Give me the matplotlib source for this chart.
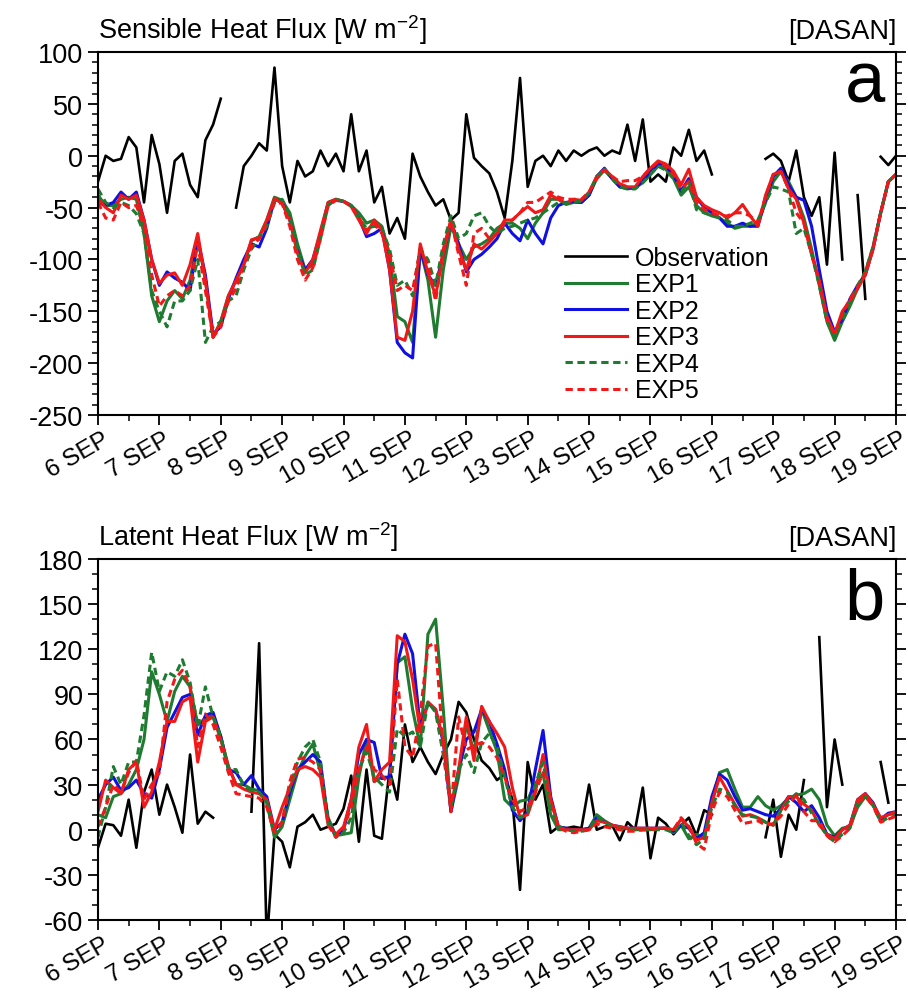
#!/usr/bin/env python
# surface heat fluxes at DASAN, observation vs. five model experiments
# values are 3-hourly from 6 SEP 00 to 19 SEP 00 (105 points)

import numpy as n
import matplotlib
matplotlib.use('Agg')
import matplotlib.pyplot as plt
import matplotlib.transforms as mtrans
from matplotlib.ticker import MultipleLocator

nan = n.nan

days = 6 + n.arange(105) / 8.
tick_days = list(range(6, 20))
tick_labels = ['%d SEP' % d for d in tick_days]
names = ['Observation', 'EXP1', 'EXP2', 'EXP3', 'EXP4', 'EXP5']

# sensible heat flux (W m-2)
sh_obs = [-25, 0, -5, -3, 18, 8, -45, 20,
          -8, -55, -5, 2, -28, -40, 15, 30,
          55, nan, -50, -10, 0, 12, 5, 85,
          -10, -45, -5, -20, -15, 5, -10, 2,
          -15, 40, -15, 5, -45, -30, -75, -60,
          -80, 2, -20, -35, -48, -42, -62, -55,
          40, -2, -10, -17, -35, -60, -5, 75,
          -30, -5, 0, -10, 5, -5, 5, 0,
          5, 8, 0, 5, 2, 30, -5, 35,
          -25, -18, -25, 8, 0, 25, -5, 5,
          -18, nan, nan, nan, nan, nan, nan, -3,
          2, -5, -25, 5, -40, -58, -40, -105,
          3, -100, nan, -38, -138, nan, -1, -9,
          0]
sh_exp1 = [-38, -48, -48, -42, -40, -42, -75, -135,
           -160, -140, -130, -138, -120, -80, -120, -175,
           -160, -135, -120, -105, -82, -78, -62, -40,
           -43, -55, -85, -110, -105, -75, -45, -42,
           -44, -48, -55, -65, -62, -68, -95, -155,
           -160, -180, -90, -120, -175, -110, -68, -85,
           -100, -88, -85, -80, -70, -65, -65, -70,
           -80, -65, -55, -42, -42, -47, -45, -45,
           -38, -22, -14, -22, -30, -32, -31, -26,
           -18, -10, -13, -22, -38, -30, -48, -55,
           -58, -60, -65, -70, -68, -68, -65, -45,
           -25, -15, -25, -40, -60, -90, -125, -160,
           -178, -160, -145, -128, -112, -88, -55, -25,
           -18]
sh_exp2 = [-45, -48, -45, -35, -42, -35, -62, -100,
           -125, -112, -118, -122, -130, -80, -115, -172,
           -165, -138, -118, -100, -85, -88, -70, -42,
           -45, -62, -92, -110, -100, -75, -46, -43,
           -44, -48, -60, -78, -75, -70, -110, -180,
           -190, -195, -90, -115, -125, -95, -63, -85,
           -112, -100, -95, -88, -80, -65, -75, -82,
           -62, -75, -85, -60, -48, -45, -44, -45,
           -38, -20, -12, -22, -30, -31, -31, -24,
           -15, -7, -10, -18, -34, -22, -40, -50,
           -55, -60, -68, -68, -65, -68, -68, -42,
           -20, -12, -28, -40, -43, -68, -110, -150,
           -170, -158, -138, -125, -115, -90, -55, -25,
           -18]
sh_exp3 = [-42, -50, -55, -38, -42, -38, -62, -100,
           -123, -115, -113, -125, -105, -75, -120, -175,
           -160, -135, -120, -105, -81, -79, -62, -41,
           -46, -62, -94, -113, -100, -72, -45, -42,
           -44, -49, -62, -75, -62, -72, -110, -175,
           -178, -150, -85, -113, -135, -95, -62, -90,
           -110, -85, -90, -83, -75, -62, -62, -55,
           -49, -55, -52, -38, -42, -46, -42, -43,
           -35, -20, -13, -20, -27, -30, -30, -20,
           -12, -5, -8, -15, -28, -13, -40, -48,
           -52, -55, -60, -55, -47, -58, -68, -38,
           -18, -15, -32, -42, -65, -95, -120, -155,
           -172, -150, -140, -128, -115, -90, -55, -25,
           -18]
sh_exp4 = [-32, -45, -50, -45, -48, -56, -75, -130,
           -150, -165, -140, -140, -130, -100, -180, -165,
           -160, -140, -135, -110, -90, -80, -68, -45,
           -42, -58, -90, -115, -110, -80, -48, -42,
           -44, -48, -60, -70, -68, -70, -90, -125,
           -120, -135, -90, -100, -125, -85, -58, -80,
           -75, -58, -55, -68, -75, -70, -68, -65,
           -62, -60, -55, -50, -45, -46, -44, -44,
           -36, -20, -13, -22, -30, -32, -32, -26,
           -18, -10, -14, -22, -35, -25, -52, -55,
           -57, -60, -62, -68, -68, -65, -62, -45,
           -30, -32, -35, -75, -70, -95, -125, -160,
           -175, -158, -140, -125, -112, -88, -55, -25,
           -18]
sh_exp5 = [-45, -60, -62, -45, -50, -48, -68, -115,
           -145, -135, -130, -135, -125, -85, -130, -175,
           -165, -140, -128, -105, -88, -80, -65, -45,
           -46, -68, -100, -120, -108, -80, -48, -43,
           -44, -48, -60, -72, -65, -75, -95, -130,
           -125, -130, -90, -105, -140, -90, -62, -95,
           -125, -75, -70, -80, -75, -65, -62, -55,
           -45, -45, -40, -35, -40, -42, -42, -42,
           -35, -22, -14, -20, -25, -24, -24, -20,
           -12, -6, -10, -18, -32, -25, -45, -52,
           -55, -58, -58, -55, -55, -58, -65, -40,
           -18, -15, -32, -55, -65, -95, -122, -158,
           -172, -152, -138, -127, -114, -90, -55, -25,
           -18]

# latent heat flux (W m-2)
lh_obs = [-12, 4, 3, -4, 20, -12, 25, 40,
          10, 30, 15, -2, 50, 4, 12, 8,
          nan, nan, nan, nan, 12, 124, -75, -3,
          -8, -25, 2, 5, 10, 0, 2, 4,
          14, 36, -8, 40, -4, -6, 40, 20,
          70, 45, 55, 45, 37, 50, 60, 85,
          78, 60, 46, 41, 33, 37, 20, -40,
          45, 20, 30, -2, 2, 1, 2, 1,
          30, 0, 2, 3, -7, 5, 0, 28,
          -19, 8, 4, -3, 3, 8, -4, 13,
          10, nan, nan, nan, nan, nan, nan, -5,
          20, -18, 10, 0, 33, nan, 128, 15,
          60, 30, nan, nan, nan, nan, 45, 18,
          nan]
lh_exp1 = [10, 8, 22, 24, 30, 40, 60, 105,
           90, 72, 92, 102, 95, 70, 74, 76,
           62, 42, 30, 30, 27, 26, 18, -5,
           2, 20, 38, 49, 57, 38, 8, -4,
           -3, -2, 35, 60, 32, 35, 35, 111,
           115, 80, 55, 130, 140, 80, 12, 35,
           70, 52, 80, 66, 52, 20, 15, 19,
           20, 31, 37, 10, 0, 0, 0, 0,
           1, 10, 6, 3, 1, 1, 0, 0,
           0, 1, 1, -2, 3, -6, -3, -6,
           18, 38, 40, 27, 15, 15, 22, 16,
           13, 16, 21, 23, 24, 27, 20, 3,
           -4, 1, 2, 15, 22, 17, 7, 10,
           11]
lh_exp2 = [20, 30, 35, 26, 28, 33, 24, 21,
           40, 68, 78, 88, 90, 63, 76, 78,
           62, 40, 38, 30, 36, 27, 22, 0,
           5, 25, 40, 45, 50, 45, 5, -4,
           0, 20, 50, 60, 58, 34, 35, 110,
           130, 117, 68, 84, 80, 58, 12, 40,
           60, 65, 80, 72, 57, 40, 13, 6,
           12, 40, 66, 22, 2, 1, 0, 0,
           1, 8, 5, 3, 2, 1, 1, 1,
           1, 1, 1, -1, 3, 1, -6, -2,
           22, 37, 33, 22, 13, 14, 12, 10,
           9, 14, 22, 18, 12, 16, 8, -3,
           -5, 0, 3, 20, 24, 18, 7, 11,
           12]
lh_exp3 = [12, 33, 28, 24, 40, 45, 15, 25,
           45, 72, 72, 85, 88, 45, 72, 75,
           60, 42, 30, 27, 25, 24, 20, 0,
           15, 28, 40, 42, 40, 35, 3, -3,
           2, 20, 55, 70, 32, 40, 45, 129,
           125, 100, 65, 85, 80, 60, 15, 40,
           75, 46, 82, 72, 64, 55, 28, 8,
           10, 25, 50, 20, 2, 0, 0, 0,
           0, 6, 5, 3, 2, 1, 1, 1,
           1, 1, 1, 0, 7, 2, -7, -5,
           18, 35, 26, 17, 9, 10, 8, 5,
           3, 13, 22, 22, 17, 13, 3, -3,
           -6, 0, 3, 20, 24, 17, 8, 10,
           12]
lh_exp4 = [-5, 15, 42, 30, 45, 45, 76, 118,
           92, 105, 102, 113, 98, 68, 95, 75,
           62, 40, 40, 29, 26, 25, 18, -4,
           5, 28, 45, 55, 60, 45, 5, -5,
           -2, 8, 40, 52, 35, 30, 25, 67,
           62, 65, 55, 85, 78, 50, 15, 40,
           50, 38, 58, 64, 55, 35, 15, 8,
           12, 30, 45, 15, 2, 0, -1, -1,
           0, 9, 5, 2, 1, 0, 0, 0,
           0, 0, 0, -2, 5, -4, -10, -6,
           15, 27, 25, 16, 10, 9, 8, 5,
           3, 13, 19, 24, 20, 11, 4, -4,
           -8, -3, 1, 18, 22, 16, 5, 8,
           9]
lh_exp5 = [2, 15, 30, 25, 38, 46, 20, 30,
           38, 85, 100, 106, 95, 55, 77, 70,
           55, 38, 24, 23, 22, 21, 15, -2,
           5, 32, 47, 48, 45, 40, 3, -5,
           1, 15, 40, 55, 40, 36, 30, 100,
           55, 48, 77, 122, 124, 55, 12, 75,
           53, 56, 58, 55, 48, 35, 20, 12,
           15, 25, 38, 20, 2, -1, -2, -1,
           0, 4, 2, 1, 0, -1, -1, 0,
           0, 1, 1, 0, 8, 2, -9, -13,
           12, 25, 22, 13, 4, 5, 6, 3,
           4, 9, 17, 23, 12, 6, 6, -4,
           -8, -4, 1, 18, 22, 16, 5, 7,
           9]

plt.rcParams['font.family'] = ['Liberation Sans', 'DejaVu Sans']
plt.rcParams['mathtext.fontset'] = 'custom'
plt.rcParams['mathtext.rm'] = 'Liberation Sans'
plt.rcParams['mathtext.it'] = 'Liberation Sans'
plt.rcParams['axes.unicode_minus'] = False

green = '#1e7b30'
blue = '#1010e0'
red = '#f01818'
styles = [dict(color='k', lw=1.9, ls='-'),
          dict(color=green, lw=2.2, ls='-'),
          dict(color=blue, lw=2.2, ls='-'),
          dict(color=red, lw=2.2, ls='-'),
          dict(color=green, lw=2.2, ls=(0, (2.4, 1.5))),
          dict(color=red, lw=2.2, ls=(0, (2.4, 1.5)))]


def panel(ax, series, ylim, major, title, letter, letter_y):
    for s, st, lab in zip(series, styles, names):
        ax.plot(days, s, label=lab, **st)
    ax.set_xlim(6, 19)
    ax.set_ylim(ylim)
    ax.xaxis.set_minor_locator(MultipleLocator(0.5))
    ax.yaxis.set_major_locator(MultipleLocator(major))
    ax.yaxis.set_minor_locator(MultipleLocator(10))
    ax.set_xticks(tick_days)
    ax.set_xticklabels(tick_labels, rotation=30, ha='right', va='top',
                       rotation_mode='anchor')
    ax.tick_params(which='major', direction='out', length=7.5, width=1.3,
                   labelsize=19.5, top=False, right=True, pad=3)
    ax.tick_params(which='minor', direction='out', length=4, width=1.1,
                   top=False, right=True)
    ax.tick_params(axis='x', labelsize=17.5, pad=1.5)
    # rotated date labels end a little to the right of their tick
    shift = mtrans.ScaledTranslation(0.04, 0, ax.figure.dpi_scale_trans)
    for lab in ax.get_xticklabels():
        lab.set_transform(lab.get_transform() + shift)
    for sp in ax.spines.values():
        sp.set_linewidth(1.5)
    ax.text(0, 1.038, title, transform=ax.transAxes, ha='left', va='baseline', fontsize=19.5)
    ax.text(1, 1.038, '[DASAN]', transform=ax.transAxes, ha='right', va='baseline', fontsize=19.5)
    ax.text(0.986, letter_y, letter, transform=ax.transAxes, ha='right', va='baseline', fontsize=52)


fig = plt.figure(figsize=(9.08, 9.95), dpi=100)

ax1 = fig.add_axes((0.1079, 0.5819, 0.8789, 0.3648))
panel(ax1, [sh_obs, sh_exp1, sh_exp2, sh_exp3, sh_exp4, sh_exp5], (-250, 100), 50,
      'Sensible Heat Flux [W m$^{-2}$]', 'a', 0.865)
ax1.legend(loc='upper left', bbox_to_anchor=(0.585, 0.466), frameon=False, fontsize=18,
           handlelength=2.5, handletextpad=0.3, labelspacing=0.1, borderpad=0, borderaxespad=0)

ax2 = fig.add_axes((0.1079, 0.0744, 0.8789, 0.3628))
panel(ax2, [lh_obs, lh_exp1, lh_exp2, lh_exp3, lh_exp4, lh_exp5], (-60, 180), 30,
      'Latent Heat Flux [W m$^{-2}$]', 'b', 0.834)

fig.savefig('out.png', dpi=100)
